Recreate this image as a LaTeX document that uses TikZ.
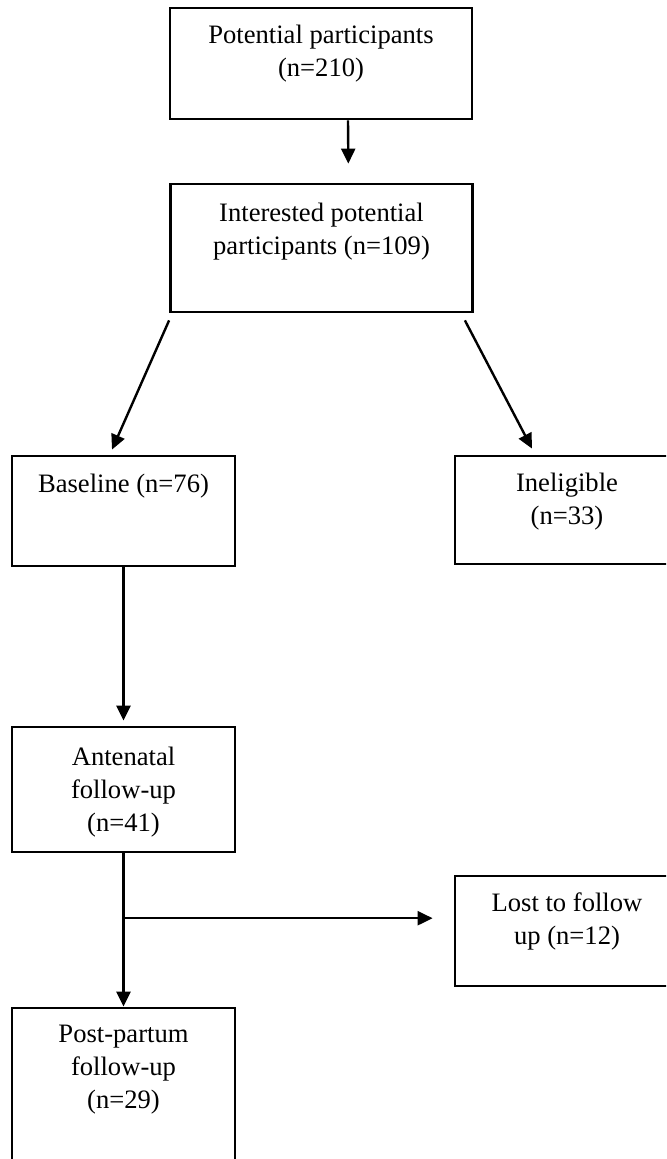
\documentclass[tikz,border=0pt]{standalone}
\usepackage{fontspec}
\setmainfont{Liberation Serif}
\usetikzlibrary{positioning,arrows.meta,calc}
\tikzset{
  box/.style={draw,line width=1.4pt,align=center,inner sep=0pt,text height=18pt,font=\fontsize{13.3pt}{16.5pt}\selectfont},
  flow/.style={-{Triangle[length=7.5pt,width=7pt]},line width=1.2pt},
}
\begin{document}
\begin{tikzpicture}[x=0.5pt,y=-0.5pt]
  \clip (0,0) rectangle (666,1159);
  \node[box,minimum width=151pt,text height=34.5pt,text depth=21pt] (pot) at (321,63.5) {Potential participants\\(n=210)};
  \node[box,minimum width=151pt,text height=35.5pt,text depth=28.5pt] (intr) at (321.5,248) {Interested potential\\participants (n=109)};
  \node[box,minimum width=111.5pt,text depth=37pt] (bline) at (123.5,511) {Baseline (n=76)};
  \node[box,minimum width=112pt,text height=34pt,text depth=20pt] (inel) at (567,510) {Ineligible\\(n=33)};
  \node[box,minimum width=111.5pt,text height=52pt,text depth=10.5pt] (ante) at (123.5,789.5) {Antenatal\\follow-up\\(n=41)};
  \node[box,minimum width=112pt,text height=34pt,text depth=21pt] (lost) at (567,931) {Lost to follow\\up (n=12)};
  \node[box,minimum width=111.5pt,text height=50pt,text depth=30pt] (post) at (123.5,1088) {Post-partum\\follow-up\\(n=29)};
  \coordinate (split) at ($(ante.south)!0.423!(post.north)$);
  \draw[flow,shorten >=9.5pt] ($(pot.south)+(27,0)$) -- ($(intr.north)+(27,0)$);
  \draw[flow] ($(intr.south west)+(0,7)$) -- ($(bline.north)+(-11.5,-5)$);
  \draw[flow] ($(intr.south east)+(-9,7)$) -- ($(inel.north)+(-35,-6)$);
  \draw[flow,shorten >=2.5pt] (bline.south) -- (ante.north);
  \draw[flow] (ante.south) -- (post.north);
  \draw[flow,shorten >=10.5pt] (split) -- (split -| lost.west);
\end{tikzpicture}
\end{document}
